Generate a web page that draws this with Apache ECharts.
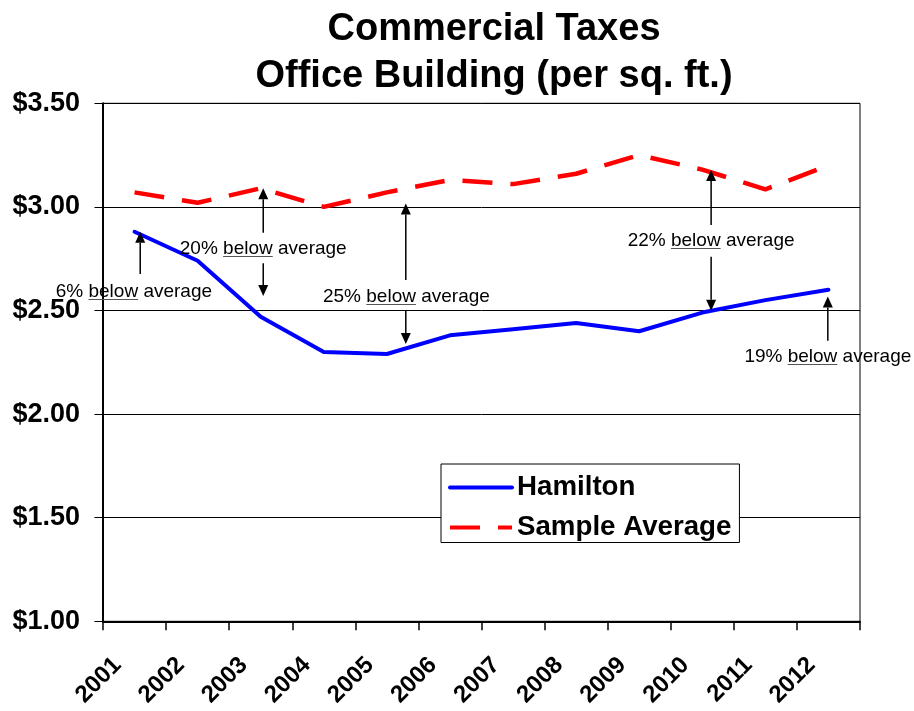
<!DOCTYPE html>
<html>
<head>
<meta charset="utf-8">
<script src="https://cdn.jsdelivr.net/npm/echarts@6/dist/echarts.min.js"></script>
<style>html,body{margin:0;padding:0;background:#fff}#c{width:914px;height:711px}</style>
</head>
<body>
<div id="c"></div>
<script>
// ---- data ----
const years = ['2001','2002','2003','2004','2005','2006','2007','2008','2009','2010','2011','2012'];
const hamilton = [2.88, 2.74, 2.47, 2.30, 2.29, 2.38, 2.41, 2.44, 2.40, 2.49, 2.55, 2.60];
const sampleAvg = [3.07, 3.02, 3.09, 3.00, 3.07, 3.13, 3.11, 3.16, 3.25, 3.18, 3.085, 3.20];
const yTicks = [1.0, 1.5, 2.0, 2.5, 3.0, 3.5];
// annotation arrows: [x position in category units, tail value, tip value]
const arrowX    = [0.59, 2.54, 2.54, 4.80, 4.80, 9.64, 9.64, 11.49];
const arrowFrom = [2.676, 2.875, 2.728, 2.647, 2.497, 2.913, 2.760, 2.354];
const arrowTo   = [2.880, 3.090, 2.570, 3.017, 2.338, 3.178, 2.499, 2.567];
// annotation texts
const notePct = ['6%', '20%', '25%', '22%', '19%'];
const noteX   = [0.49, 2.54, 4.81, 9.64, 11.49];
const noteY   = [2.590, 2.800, 2.566, 2.836, 2.276];

const ANN_FONT = '19px "Liberation Sans", Arial, sans-serif';
const measureCtx = document.createElement('canvas').getContext('2d');
measureCtx.font = ANN_FONT;

const chart = echarts.init(document.getElementById('c'), null, {renderer: 'canvas'});

function renderArrow(params, api) {
  const x = api.value(0), v0 = api.value(1), v1 = api.value(2);
  const p0 = api.coord([x, v0]), p1 = api.coord([x, v1]);
  const dir = p1[1] > p0[1] ? 1 : -1;
  const headLen = 11, headW = 5;
  const base = p1[1] - dir * headLen;
  return {
    type: 'group',
    children: [
      {type: 'line', shape: {x1: p0[0], y1: p0[1], x2: p1[0], y2: base}, style: {stroke: '#000', lineWidth: 1.5}},
      {type: 'polygon', shape: {points: [[p1[0], p1[1]], [p1[0] - headW, base], [p1[0] + headW, base]]}, style: {fill: '#000'}}
    ]
  };
}

function renderNote(params, api) {
  const i = params.dataIndex;
  const p = api.coord([api.value(0), api.value(1)]);
  const pre = notePct[i] + ' ', word = 'below', post = ' average';
  const full = pre + word + post;
  const wFull = measureCtx.measureText(full).width;
  const wPre = measureCtx.measureText(pre).width;
  const wWord = measureCtx.measureText(word).width;
  const left = p[0] - wFull / 2;
  const uy = Math.round(p[1] + 7.5) + 0.5;
  return {
    type: 'group',
    children: [
      {type: 'text', style: {text: full, x: p[0], y: p[1], align: 'center', verticalAlign: 'middle', font: ANN_FONT, fill: '#000'}},
      {type: 'line', shape: {x1: left + wPre, y1: uy, x2: left + wPre + wWord, y2: uy}, style: {stroke: '#555', lineWidth: 1}}
    ]
  };
}

const option = {
  backgroundColor: '#fff',
  animation: false,
  graphic: [
    {type: 'text', x: 494, y: 30, style: {text: 'Commercial Taxes', align: 'center', verticalAlign: 'middle', font: 'bold 38px "Liberation Sans", Arial, sans-serif', fill: '#000'}},
    {type: 'text', x: 494, y: 77, style: {text: 'Office Building (per sq. ft.)', align: 'center', verticalAlign: 'middle', font: 'bold 38px "Liberation Sans", Arial, sans-serif', fill: '#000'}}
  ],
  grid: {left: 103, right: 54, top: 103.3, bottom: 89.7, show: true, borderColor: '#000', borderWidth: 1, backgroundColor: 'transparent'},
  legend: {
    orient: 'vertical',
    left: 441, top: 464,
    data: ['Hamilton', 'Sample Average'],
    backgroundColor: '#fff',
    borderColor: '#000', borderWidth: 1, borderRadius: 0,
    padding: [9.5, 8, 1, 7],
    itemWidth: 62, itemHeight: 14, itemGap: 12,
    itemStyle: {color: 'rgba(0,0,0,0)', borderColor: 'rgba(0,0,0,0)', borderWidth: 0, opacity: 0},
    lineStyle: {width: 4},
    textStyle: {fontFamily: '"Liberation Sans", Arial, sans-serif', fontWeight: 'bold', fontSize: 27.7, color: '#000', lineHeight: 27}
  },
  xAxis: [
    {
      type: 'category', data: years, boundaryGap: true,
      axisLine: {lineStyle: {color: '#000', width: 2}},
      axisTick: {show: true, length: 9, lineStyle: {color: '#000', width: 1.5}},
      axisLabel: {
        interval: 0, rotate: 45, margin: 23, color: '#000',
        fontFamily: '"Liberation Sans", Arial, sans-serif', fontWeight: 'bold', fontSize: 24,
        formatter: v => '{a|' + v + '}',
        rich: {a: {padding: [0, 24, 0, 0], color: '#000', fontFamily: '"Liberation Sans", Arial, sans-serif', fontWeight: 'bold', fontSize: 24}}
      },
      splitLine: {show: false}
    },
    {type: 'value', min: 0, max: 12, show: false}
  ],
  yAxis: {
    type: 'value', min: yTicks[0], max: yTicks[yTicks.length - 1], interval: 0.5,
    axisLine: {show: true, lineStyle: {color: '#000', width: 2}},
    axisTick: {show: true, length: 8.5, lineStyle: {color: '#000', width: 1}},
    axisLabel: {margin: 23, color: '#000', fontFamily: '"Liberation Sans", Arial, sans-serif', fontWeight: 'bold', fontSize: 27, formatter: v => '$' + v.toFixed(2)},
    splitLine: {show: true, lineStyle: {color: '#000', width: 1}}
  },
  series: [
    {
      name: 'Hamilton', type: 'line', data: hamilton, symbol: 'none', showSymbol: false,
      lineStyle: {color: '#0000ff', width: 4, cap: 'round', join: 'round'}, itemStyle: {color: '#0000ff'}, z: 3
    },
    {
      name: 'Sample Average', type: 'line', data: sampleAvg, symbol: 'none', showSymbol: false,
      lineStyle: {color: '#ff0000', width: 4.5, type: [30, 18]}, itemStyle: {color: '#ff0000'}, z: 3
    },
    {
      type: 'custom', xAxisIndex: 1, yAxisIndex: 0, z: 5, silent: true,
      encode: {x: 0, y: [1, 2]},
      data: arrowX.map((x, i) => [x, arrowFrom[i], arrowTo[i]]),
      renderItem: renderArrow
    },
    {
      type: 'custom', xAxisIndex: 1, yAxisIndex: 0, z: 6, silent: true,
      encode: {x: 0, y: 1},
      data: noteX.map((x, i) => [x, noteY[i]]),
      renderItem: renderNote
    }
  ]
};
chart.setOption(option);
</script>
</body>
</html>
